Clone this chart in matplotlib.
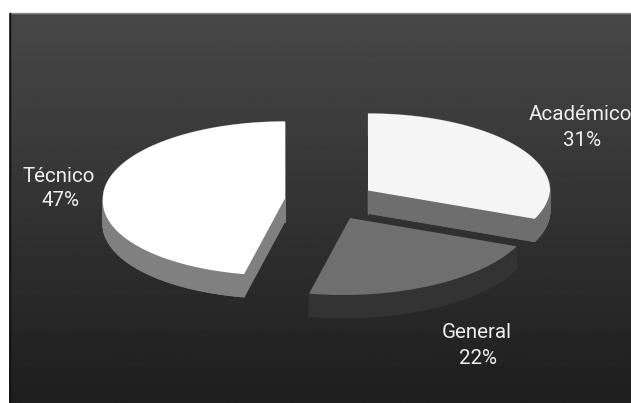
import numpy as np
import matplotlib
matplotlib.use("Agg")
import matplotlib.pyplot as plt
from matplotlib.collections import PolyCollection
from matplotlib.patches import Polygon

# Share of each track, clockwise from twelve o'clock
categories = ["Académico", "General", "Técnico"]
values = [31, 22, 47]

# Apex of each exploded slice in canvas pixels
apexes = [(368, 190.5), (350, 218), (285, 198.5)]
top_colors = ["#f5f5f5", "#6f6f6f", "#ffffff"]
side_colors = ["#6e6e6e", "#333333", "#808080"]
label_xy = [(580.5, 115), (476.5, 333), (58.5, 177)]
pct_xy = [(582, 141), (478.5, 359), (61, 201)]

RX, RY, DEPTH, SHEAR = 182, 77, 23, 0.09
W, H = 631, 403

fig = plt.figure(figsize=(W / 100, H / 100), dpi=100, facecolor="white")
ax = fig.add_axes([0, 0, 1, 1])
ax.axis("off")

# Dark panel with a vertical gradient
grad = np.linspace(0x48, 0x1e, 256)[:, None] / 255
ax.imshow(grad, cmap="gray", vmin=0, vmax=1, extent=(9, W, H, 13), aspect="auto", zorder=0)
ax.plot([9, W], [13, 13], color="#8a8a8a", lw=1, zorder=1)
ax.plot([9.5, 9.5], [13, H], color="#111111", lw=1, zorder=1)
ax.set_xlim(0, W)
ax.set_ylim(H, 0)


def slice_outline(apex, start_deg, end_deg):
    """Outline of a flattened slice; the front half leans slightly left."""
    t = np.radians(np.linspace(start_deg, end_deg, 160))
    dx = RX * np.cos(t)
    dy = -RY * np.sin(t)
    xs = apex[0] + dx - SHEAR * np.maximum(dy, 0)
    ys = apex[1] + dy
    return np.column_stack([np.r_[apex[0], xs], np.r_[apex[1], ys]])


angle = 90.0
for i in range(len(values)):
    sweep = 360 * values[i] / sum(values)
    outline = slice_outline(apexes[i], angle, angle - sweep)
    angle -= sweep

    # Extruded wall first, then the lit top face
    shifted = outline + [0, DEPTH]
    ring = np.r_[np.arange(len(outline)), 0]
    quads = [
        [outline[a], outline[b], shifted[b], shifted[a]]
        for a, b in zip(ring[:-1], ring[1:])
    ]
    ax.add_collection(PolyCollection(quads, facecolors=side_colors[i],
                                     edgecolors=side_colors[i], linewidths=0.5, zorder=2 + i))
    ax.add_patch(Polygon(shifted, closed=True, fc=side_colors[i], ec="none", zorder=2 + i))
    ax.add_patch(Polygon(outline, closed=True, fc=top_colors[i], ec="none", zorder=2 + i))

    ax.text(*label_xy[i], categories[i], ha="center", va="center", color="#eeeeee",
            family="Roboto", fontsize=14.8, zorder=10)
    ax.text(*pct_xy[i], f"{values[i]}%", ha="center", va="center", color="#eeeeee",
            family="Roboto", fontsize=14.8, zorder=10)

fig.savefig("out.png", dpi=100, facecolor="white")
